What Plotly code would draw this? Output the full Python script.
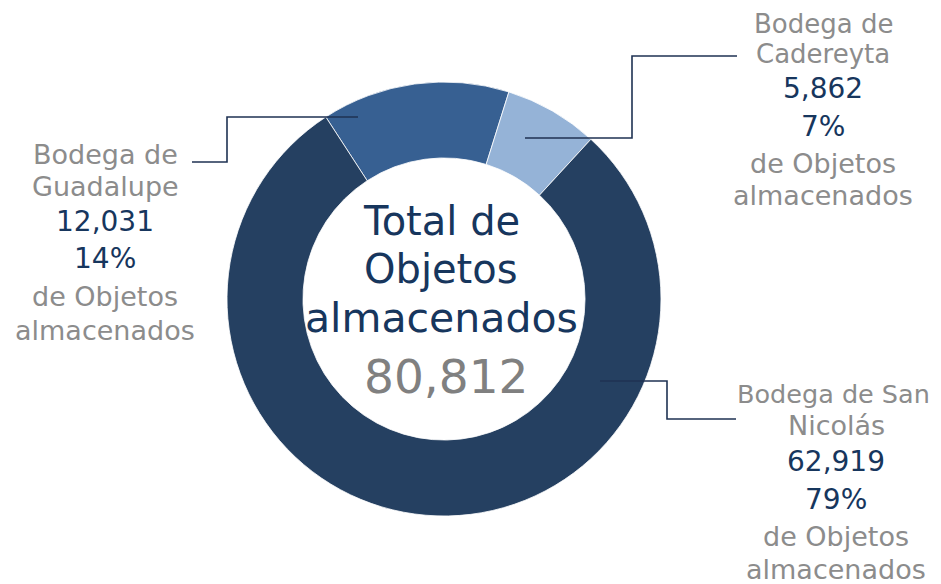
import plotly.graph_objects as go

# ---- data ----
bodegas = ["Guadalupe", "Cadereyta", "San Nicolás"]
objetos = [12031, 5862, 62919]
porcentajes = [14, 7, 79]
total = 80812
colores = ["#376092", "#95B3D7", "#254061"]

# page body has an 8px margin; lay out in page pixels and convert
OFF = 8
W, H = 941 - OFF, 584 - OFF
NAVY = "#17365D"
GRAY = "#8C8C8C"
FONT = "DejaVu Sans"


def px(x):
    return (x - OFF) / W


def py(y):
    return 1 - (y - OFF) / H


cx, cy, R = 444, 299, 217

fig = go.Figure()
fig.add_trace(go.Pie(
    labels=bodegas,
    values=porcentajes,
    sort=False,
    direction="clockwise",
    rotation=-33,
    hole=0.65,
    textinfo="none",
    hoverinfo="skip",
    marker=dict(colors=colores, line=dict(color="#ffffff", width=0.8)),
    domain=dict(x=[px(cx - R), px(cx + R)], y=[py(cy + R), py(cy - R)]),
    showlegend=False,
))

annotations = []


def add_line(text, x, y, size, color, top=False):
    ann = dict(
        text=text, x=px(x), y=py(y), xref="paper", yref="paper",
        xanchor="center", yanchor="middle", showarrow=False,
        font=dict(family=FONT, size=size, color=color),
    )
    if top:
        # keep the text box inside the page top edge
        ann.update(y=1, yanchor="top", borderpad=0)
    annotations.append(ann)


# center text
add_line("Total de", 441, 221, 40, NAVY)
add_line("Objetos", 441, 269, 40, NAVY)
add_line("almacenados", 441, 317.5, 41, NAVY)
add_line(f"{total:,}", 446, 376, 47, "#808080")

# label blocks: (name lines, x, y centers, sizes of the two name lines)
blocks = {
    "Guadalupe": (["Bodega de", "Guadalupe"], 105, [155, 186.5, 221, 259, 296, 330], (27, 27)),
    "Cadereyta": (["Bodega de", "Cadereyta"], 823, [19.5, 54.5, 88.5, 126, 163.5, 195], (26, 26)),
    "San Nicolás": (["Bodega de San", "Nicolás"], 836, [393.5, 425, 461, 499, 536, 569], (25.5, 27)),
}

for name, val, pct in zip(bodegas, objetos, porcentajes):
    lines, x, ys, (s0, s1) = blocks[name]
    x0 = x - 3 if len(lines[0]) > 10 else x
    add_line(lines[0], x0, ys[0], s0, GRAY, top=(ys[0] < 25))
    add_line(lines[1], x, ys[1], s1, GRAY)
    add_line(f"{val:,}", x, ys[2], 28, NAVY)
    add_line(f"{pct}%", x, ys[3], 28, NAVY)
    add_line("de Objetos", x, ys[4], 27, GRAY)
    add_line("almacenados", x, ys[5], 27, GRAY)

# leader lines (page pixel paths)
leaders = [
    [(358, 117), (227, 117), (227, 162), (192, 162)],
    [(525, 138), (632, 138), (632, 56), (737, 56)],
    [(600, 381), (667, 381), (667, 419), (736, 419)],
]
shapes = []
for pts in leaders:
    path = "M " + " L ".join(f"{px(x)},{py(y)}" for x, y in pts)
    shapes.append(dict(type="path", path=path, xref="paper", yref="paper",
                       line=dict(color="#1F3253", width=1.6)))

fig.update_layout(
    width=W, height=H,
    margin=dict(l=0, r=0, t=0, b=0),
    paper_bgcolor="white", plot_bgcolor="white",
    annotations=annotations,
    shapes=shapes,
)

fig.write_html("out.html")
